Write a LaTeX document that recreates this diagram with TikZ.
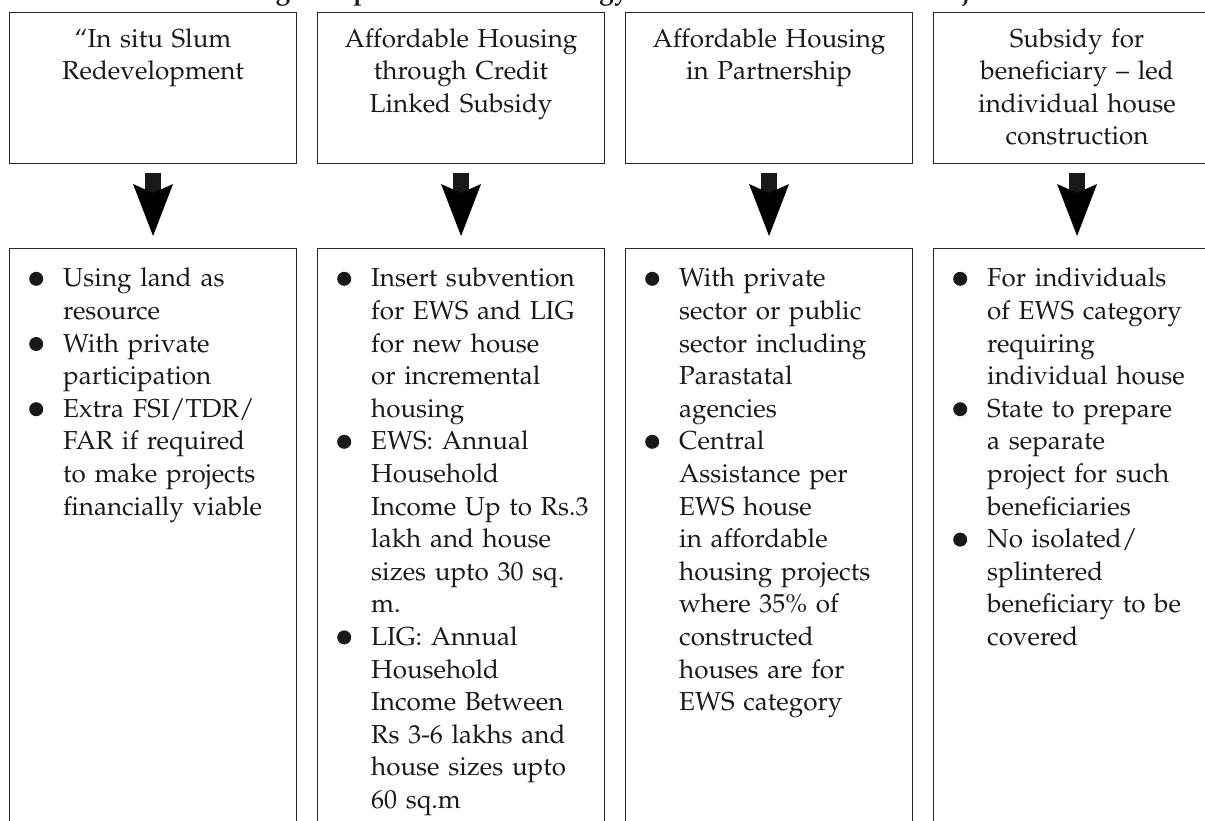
\documentclass[tikz,border=0pt]{standalone}
\usepackage[T1]{fontenc}
\usepackage{mathpazo}
\usetikzlibrary{arrows.meta}

% round bullet used in the lists
\newcommand\dotmark{\tikz[baseline=-8pt]\fill[black!90] (0,0) circle (7pt);}
\newenvironment{pointlist}{%
  \begin{list}{\dotmark}{%
    \setlength\leftmargin{54pt}\setlength\labelwidth{14pt}%
    \setlength\labelsep{20pt}\setlength\itemindent{0pt}%
    \setlength\itemsep{0pt}\setlength\parsep{0pt}%
    \setlength\topsep{0pt}\setlength\partopsep{0pt}}\raggedright}%
  {\end{list}}

\tikzset{
  frame/.style={draw=black!85, line width=1.1pt, inner sep=0pt,
    anchor=north west, minimum width=287pt},
  headbox/.style={frame, minimum height=151pt},
  listbox/.style={frame, minimum height=600pt},
  bodyfont/.style={font=\fontsize{26}{32.6}\selectfont, text=black!90},
  headtext/.style={bodyfont, anchor=north, inner sep=0pt,
    text width=284pt, align=center},
  listtext/.style={bodyfont, anchor=north west, inner sep=0pt,
    text width=284pt},
  blockarrow/.style={draw=black!90, line width=16pt,
    -{Stealth[length=52pt,width=40pt,inset=9pt,line width=0pt]},
    shorten <=9pt, shorten >=12pt}
}

\begin{document}
\begin{tikzpicture}[x=1pt,y=1pt]
\useasboundingbox (0,0) rectangle (1205,-820);
\clip (0,0) rectangle (1205,-820);

% heading (only its lower part falls inside the page)
\node[anchor=base, inner sep=0pt, text=black!90,
  font=\fontsize{26}{30}\selectfont\bfseries] (title) at (600,1)
  {Housing Components of the Strategy of Pradhan Mantri Awas Yojana};

% the four components
\node[headbox] (t1) at (9,-12) {};
\node[headbox] (t2) at (317,-12) {};
\node[headbox] (t3) at (625,-12) {};
\node[headbox] (t4) at (933,-12) {};

\node[headtext] (h1) at ([yshift=-16pt]t1.north)
  {``In situ Slum\\ Redevelopment};
\node[headtext] (h2) at ([yshift=-16pt]t2.north)
  {Affordable Housing\\ through Credit\\ Linked Subsidy};
\node[headtext] (h3) at ([yshift=-16pt]t3.north)
  {Affordable Housing\\ in Partnership};
\node[headtext] (h4) at ([yshift=-16pt]t4.north)
  {Subsidy for\\ beneficiary -- led\\ individual house\\ construction};

% their details
\node[listbox] (b1) at (9,-248) {};
\node[listbox] (b2) at (317,-248) {};
\node[listbox] (b3) at (625,-248) {};
\node[listbox] (b4) at (933,-248) {};

\node[listtext] (l1) at ([yshift=-6pt]b1.north west) {%
  \begin{pointlist}
  \item Using land as\\ resource
  \item With private\\ participation
  \item Extra FSI/TDR/\\ FAR if required\\ to make projects\\ financially viable
  \end{pointlist}};
\node[listtext] (l2) at ([yshift=-6pt]b2.north west) {%
  \begin{pointlist}
  \item Insert subvention\\ for EWS and LIG\\ for new house\\ or incremental\\ housing
  \item EWS: Annual\\ Household\\ Income Up to Rs.3\\ lakh and house\\ sizes upto 30 sq.\\ m.
  \item LIG: Annual\\ Household\\ Income Between\\ Rs 3-6 lakhs and\\ house sizes upto\\ 60 sq.m
  \end{pointlist}};
\node[listtext] (l3) at ([yshift=-6pt]b3.north west) {%
  \begin{pointlist}
  \item With private\\ sector or public\\ sector including\\ Parastatal\\ agencies
  \item Central\\ Assistance per\\ EWS house\\ in affordable\\ housing projects\\ where 35\% of\\ constructed\\ houses are for\\ EWS category
  \end{pointlist}};
\node[listtext] (l4) at ([yshift=-6pt]b4.north west) {%
  \begin{pointlist}
  \item For individuals\\ of EWS category\\ requiring\\ individual house
  \item State to prepare\\ a separate\\ project for such\\ beneficiaries
  \item No isolated/\\ splintered\\ beneficiary to be\\ covered
  \end{pointlist}};

% block arrows from each component to its details
\draw[blockarrow] (t1) -- (b1.north -| t1);
\draw[blockarrow] (t2) -- (b2.north -| t2);
\draw[blockarrow] (t3) -- (b3.north -| t3);
\draw[blockarrow] (t4) -- (b4.north -| t4);
\end{tikzpicture}
\end{document}
